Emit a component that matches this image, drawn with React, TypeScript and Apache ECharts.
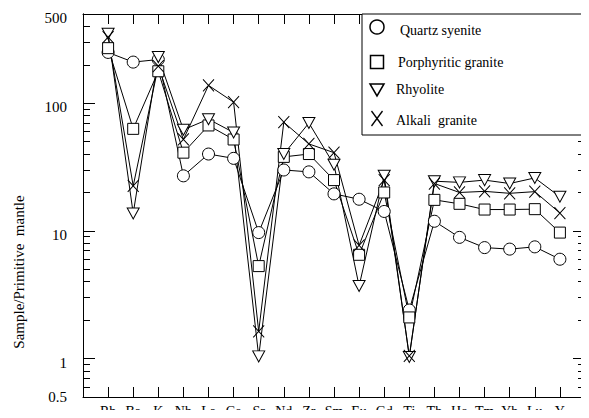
import React, { useEffect, useRef } from 'react';
import * as echarts from 'echarts';

// Primitive-mantle normalised trace element pattern
const elements = ['Rb', 'Ba', 'K', 'Nb', 'La', 'Ce', 'Sr', 'Nd', 'Zr', 'Sm', 'Eu', 'Gd', 'Ti', 'Tb', 'Ho', 'Tm', 'Yb', 'Lu', 'Y'];

const quartzSyenite = [250, 210, 220, 27, 40, 37, 9.7, 30, 29, 19.5, 17.7, 14.2, 2.4, 11.9, 8.9, 7.4, 7.2, 7.5, 6.0];
const porphyriticGranite = [270, 63, 178, 41, 67, 52, 5.3, 38, 40, 25, 6.5, 20, 2.1, 17.5, 16.3, 14.7, 14.7, 14.8, 9.7];
const rhyolite = [350, 13.7, 230, 62, 75, 59, 1.04, 40, 70, 33, 3.7, 27, 1.03, 24.5, 24, 25, 23.5, 26, 18.5];
const alkaliGranite = [330, 22.5, 195, 52, 138, 102, 1.63, 71, 48, 41, 7.7, 25, 1.05, 23.5, 20, 20.4, 19.7, 20.3, 13.8];

const yLabelValues = [0.5, 1, 10, 100, 500];
const yMajorTicks = [1, 10, 100];
const yMinorTicks = [0.6, 0.7, 0.8, 0.9, 2, 3, 4, 5, 6, 7, 8, 9, 20, 30, 40, 50, 60, 70, 80, 90, 200, 300, 400];

const FONT = 'Liberation Serif';
const INK = '#000';

const TRIANGLE_DOWN = 'path://M0,0 L12,0 L6,11 Z';
const CROSS = 'path://M0,0 L11,12 M11,0 L0,12';

// blank slots on both ends give half-spacing margins beside Rb and Y
const categories = ['', ...elements, ''];

function lineSeries(name: string, values: number[], symbol: string, size: number | number[]) {
  return {
    name,
    type: 'line',
    data: [null, ...values, null],
    symbol,
    symbolSize: size,
    showAllSymbol: true,
    lineStyle: { color: INK, width: 1 },
    itemStyle: { color: '#fff', borderColor: INK, borderWidth: 1 },
    emphasis: { disabled: true },
  };
}

function xAxisDef(position: 'top' | 'bottom', labels: boolean) {
  return {
    type: 'category',
    gridIndex: 0,
    data: categories,
    boundaryGap: false,
    position,
    axisLine: { show: true, lineStyle: { color: INK, width: 1 } },
    axisTick: { show: true, inside: true, length: 10, interval: 0, lineStyle: { color: INK, width: 1 } },
    axisLabel: {
      show: labels,
      interval: 0,
      color: INK,
      fontFamily: FONT,
      fontSize: 14,
      margin: 7,
    },
    splitLine: { show: false },
  };
}

function yAxisDef(position: 'left' | 'right', ticks: number[], tickLen: number, labels: boolean) {
  return {
    type: 'log',
    gridIndex: 0,
    logBase: 10,
    min: 0.5,
    max: 500,
    position,
    axisLine: { show: true, lineStyle: { color: INK, width: 1 } },
    axisTick: { show: true, inside: true, length: tickLen, customValues: ticks, lineStyle: { color: INK, width: 1 } },
    axisLabel: labels
      ? {
          show: true,
          customValues: yLabelValues,
          formatter: (v: number) => {
            const n = +Number(v).toPrecision(3);
            // the lowest label sits level with the bottom frame, the rest a little below their ticks
            return n === 0.5 ? `{b|${n}}` : `{v|${n}}`;
          },
          rich: {
            v: { color: INK, fontFamily: FONT, fontSize: 15, padding: [8, 0, 0, 0] },
            b: { color: INK, fontFamily: FONT, fontSize: 15 },
          },
          color: INK,
          fontFamily: FONT,
          fontSize: 15,
          margin: 16,
        }
      : { show: false },
    splitLine: { show: false },
    minorTick: { show: false },
    minorSplitLine: { show: false },
  };
}

const LEGEND_X = 362;
const LEGEND_Y = 14;
const ICON_X = 377;

// legend entries: label, text x, text centre y
const legendNames = ['Quartz syenite', 'Porphyritic granite', 'Rhyolite', 'Alkali  granite'];
const legendTextX = [400, 398, 396, 396];
const legendTextY = [30, 62, 89, 120];

function legendTitles() {
  return legendNames.map((text, i) => ({
    text,
    left: legendTextX[i],
    top: legendTextY[i] - 8,
    padding: 0,
    z: 12,
    textStyle: { color: INK, fontFamily: FONT, fontSize: 14, fontWeight: 'normal', lineHeight: 16 },
  }));
}

function legendGraphics() {
  return [
    {
      type: 'rect',
      shape: { x: LEGEND_X, y: LEGEND_Y, width: 585 - LEGEND_X, height: 121 },
      style: { fill: '#fff', stroke: INK, lineWidth: 1 },
      z: 5,
    },
    { type: 'circle', shape: { cx: ICON_X, cy: 27, r: 7 }, style: { fill: '#fff', stroke: INK, lineWidth: 1.5 }, z: 11 },
    { type: 'rect', shape: { x: ICON_X - 6.5, y: 55.5, width: 13, height: 13 }, style: { fill: '#fff', stroke: INK, lineWidth: 1.5 }, z: 11 },
    {
      type: 'polygon',
      shape: { points: [[ICON_X - 7, 84], [ICON_X + 7, 84], [ICON_X, 96]] },
      style: { fill: '#fff', stroke: INK, lineWidth: 1.5 },
      z: 11,
    },
    { type: 'line', shape: { x1: ICON_X - 5.5, y1: 111, x2: ICON_X + 5.5, y2: 126 }, style: { stroke: INK, lineWidth: 1.3 }, z: 11 },
    { type: 'line', shape: { x1: ICON_X + 5.5, y1: 111, x2: ICON_X - 5.5, y2: 126 }, style: { stroke: INK, lineWidth: 1.3 }, z: 11 },
  ];
}

export default function App() {
  const ref = useRef<HTMLDivElement>(null);

  useEffect(() => {
    if (!ref.current) return;
    const chart = echarts.init(ref.current, undefined, { renderer: 'svg' });
    chart.setOption({
      animation: false,
      backgroundColor: '#fff',
      title: legendTitles(),
      grid: [
        { left: 83, right: 4, top: 14, bottom: 20 },
        // empty grid that only carries the vertical axis title, centred lower down the frame
        { left: 83, right: 4, top: 146, bottom: 20 },
      ],
      xAxis: [
        xAxisDef('bottom', true),
        xAxisDef('top', false),
        { type: 'value', gridIndex: 1, show: false },
      ],
      yAxis: [
        yAxisDef('left', yMajorTicks, 12, true),
        yAxisDef('right', yMajorTicks, 12, false),
        yAxisDef('left', yMinorTicks, 7, false),
        yAxisDef('right', yMinorTicks, 7, false),
        {
          type: 'value',
          gridIndex: 1,
          position: 'left',
          name: 'Sample/Primitive  mantle',
          nameLocation: 'middle',
          nameRotate: 90,
          nameGap: 56,
          nameTextStyle: { color: INK, fontFamily: FONT, fontSize: 15, lineHeight: 16 },
          axisLine: { show: false },
          axisTick: { show: false },
          axisLabel: { show: false },
          splitLine: { show: false },
        },
      ],
      series: [
        lineSeries('Quartz syenite', quartzSyenite, 'circle', 12),
        lineSeries('Porphyritic granite', porphyriticGranite, 'rect', 11),
        lineSeries('Rhyolite', rhyolite, TRIANGLE_DOWN, [12, 11]),
        lineSeries('Alkali granite', alkaliGranite, CROSS, [11, 12]),
      ],
      graphic: legendGraphics(),
    });
    return () => chart.dispose();
  }, []);

  return <div ref={ref} style={{ width: 589, height: 418, margin: -8 }} />;
}
